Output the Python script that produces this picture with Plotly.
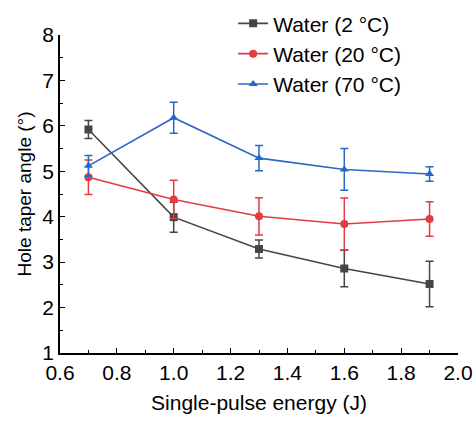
import plotly.graph_objects as go

energy = [0.7, 1.0, 1.3, 1.6, 1.9]

w2_angle = [5.92, 3.99, 3.29, 2.86, 2.52]
w2_err = [0.20, 0.33, 0.20, 0.40, 0.50]

w20_angle = [4.87, 4.38, 4.01, 3.84, 3.95]
w20_err = [0.38, 0.42, 0.41, 0.57, 0.38]

w70_angle = [5.12, 6.18, 5.29, 5.04, 4.94]
w70_err = [0.23, 0.34, 0.28, 0.46, 0.16]

names = ["Water (2 °C)", "Water (20 °C)", "Water (70 °C)"]
colors = ["#454545", "#e23b40", "#2a66c8"]
symbols = ["square", "circle", "triangle-up"]

fig = go.Figure()
for name, ys, es, c, s in zip(names, [w2_angle, w20_angle, w70_angle],
                              [w2_err, w20_err, w70_err], colors, symbols):
    fig.add_trace(go.Scatter(
        x=energy, y=ys, name=name, mode="lines+markers",
        line=dict(color=c, width=1.6),
        marker=dict(symbol=s, size=8, color=c),
        error_y=dict(type="data", array=es, visible=True, color=c,
                     thickness=1.5, width=4),
    ))

font_family = "Liberation Sans, Arial, sans-serif"
fig.update_layout(
    width=473, height=423,
    margin=dict(l=60, r=15, t=35, b=70, autoexpand=False),
    paper_bgcolor="white", plot_bgcolor="white",
    font=dict(family=font_family, size=21, color="black"),
    showlegend=True,
    legend=dict(x=0.435, y=1.10, xanchor="left", yanchor="top",
                bgcolor="rgba(0,0,0,0)", font=dict(size=21),
                tracegroupgap=0),
    xaxis=dict(range=[0.6, 2.0], dtick=0.2, tick0=0.6, tickformat=".1f",
               showline=True, linecolor="black", linewidth=1.5,
               ticks="inside", ticklen=5, tickwidth=1.2, tickcolor="black",
               minor=dict(ticks="inside", ticklen=3, dtick=0.1, tickcolor="black"),
               showgrid=False, zeroline=False, mirror=False,
               title=dict(text="Single-pulse energy (J)", font=dict(size=21), standoff=12)),
    yaxis=dict(range=[1, 8], dtick=1,
               showline=True, linecolor="black", linewidth=1.5,
               ticks="inside", ticklen=5, tickwidth=1.2, tickcolor="black",
               minor=dict(ticks="inside", ticklen=3, dtick=0.5, tickcolor="black"),
               showgrid=False, zeroline=False, mirror=False,
               title=dict(text="Hole taper angle (°)", font=dict(size=19), standoff=6)),
)

fig.write_html("out.html")
